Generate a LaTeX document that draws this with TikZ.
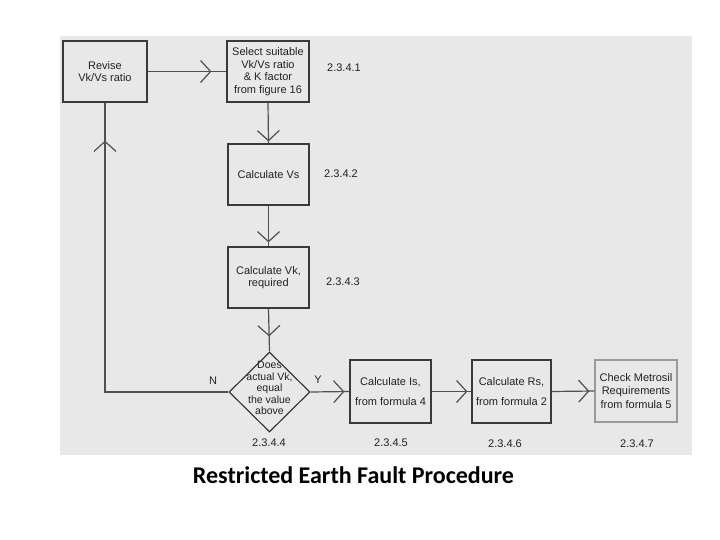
\documentclass[tikz,border=0pt]{standalone}
\usepackage{fontspec}
\setmainfont{Liberation Sans}
\newfontfamily\titlefont{Carlito}
\usetikzlibrary{arrows.meta,shapes.geometric,decorations.markings}
\definecolor{bgc}{HTML}{E8E8E8}
\definecolor{boxc}{HTML}{3A3A3A}
\definecolor{lightbox}{HTML}{9A9A9A}
\definecolor{linec}{HTML}{505050}
\definecolor{txtc}{HTML}{222222}
\tikzset{
  stepbox/.style={draw=boxc, line width=1.2pt, rectangle, inner sep=0pt, align=center,
    font=\fontsize{11}{12.5}\selectfont, text=txtc},
  numlab/.style={font=\fontsize{11}{12}\selectfont, text=txtc, inner sep=0pt},
  flow/.style={draw=linec, line width=1.2pt, postaction={decorate},
    decoration={markings, mark=at position #1 with {\arrow[line width=1.2pt, linec]{Straight Barb[length=10pt,width=22pt]}}}}
}
\begin{document}
\begin{tikzpicture}[x=1pt,y=-1pt]
\useasboundingbox (0,0) rectangle (720,540);
\fill[bgc] (60,36) rectangle (692,455);

\node[stepbox, minimum width=84pt, minimum height=61pt] (rev) at (105,71.5) {Revise\\Vk/Vs ratio};
\node[stepbox, minimum width=82pt, minimum height=61pt] (sel) at (268,71.5) {Select suitable\\Vk/Vs ratio\\\& K factor\\from figure 16};
\node[stepbox, minimum width=81pt, minimum height=61pt] (vs) at (268.5,174.5) {Calculate Vs};
\node[stepbox, minimum width=81pt, minimum height=61pt] (vk) at (268.5,277.5) {Calculate Vk,\\required};
\node[draw=boxc, line width=1.2pt, diamond, minimum width=81pt, minimum height=80pt, inner sep=0pt] (dec) at (269.5,392) {};
\node[align=center, font=\fontsize{10.5}{11.5}\selectfont, text=txtc, inner sep=0pt] (dect) at (269.5,388) {Does\\actual Vk,\\equal\\the value\\above};
\node[stepbox, minimum width=81pt, minimum height=63pt, font=\fontsize{11}{20}\selectfont] (is) at (390.5,391.5) {Calculate Is,\\from formula 4};
\node[stepbox, minimum width=79pt, minimum height=63pt, font=\fontsize{11}{20}\selectfont] (rs) at (511.5,391.5) {Calculate Rs,\\from formula 2};
\node[stepbox, draw=lightbox, minimum width=82pt, minimum height=62pt, font=\fontsize{11}{13.5}\selectfont] (chk) at (636,391) {Check Metrosil\\Requirements\\from formula 5};

\node[numlab] (n1) at (344,68) {2.3.4.1};
\node[numlab] (n2) at (341,174) {2.3.4.2};
\node[numlab] (n3) at (343,282) {2.3.4.3};
\node[numlab] (n4) at (269,443) {2.3.4.4};
\node[numlab] (n5) at (391,443) {2.3.4.5};
\node[numlab] (n6) at (505,444) {2.3.4.6};
\node[numlab] (n7) at (637,444) {2.3.4.7};
\node[numlab] (nn) at (213,381) {N};
\node[numlab] (yy) at (318,380) {Y};

\path[flow=-15pt] (rev.east) -- (sel.west);
\path[flow=-2pt] (sel.south) -- (vs.north);
\path[flow=-4pt] (vs.south) -- (vk.north);
\path[flow=-15pt] (vk.south) -- (dec.north);
\path[flow=-5pt] (dec.east) -- (is.west);
\path[flow=-4pt] (is.east) -- (rs.west);
\path[flow=-5pt] (rs.east) -- (chk.west);
\path[flow=-38pt] (dec.west) -| (rev.south);

\node[font=\titlefont\bfseries\fontsize{24}{28}\selectfont, inner sep=0pt] (title) at (353.5,475) {Restricted Earth Fault Procedure};
\end{tikzpicture}
\end{document}
